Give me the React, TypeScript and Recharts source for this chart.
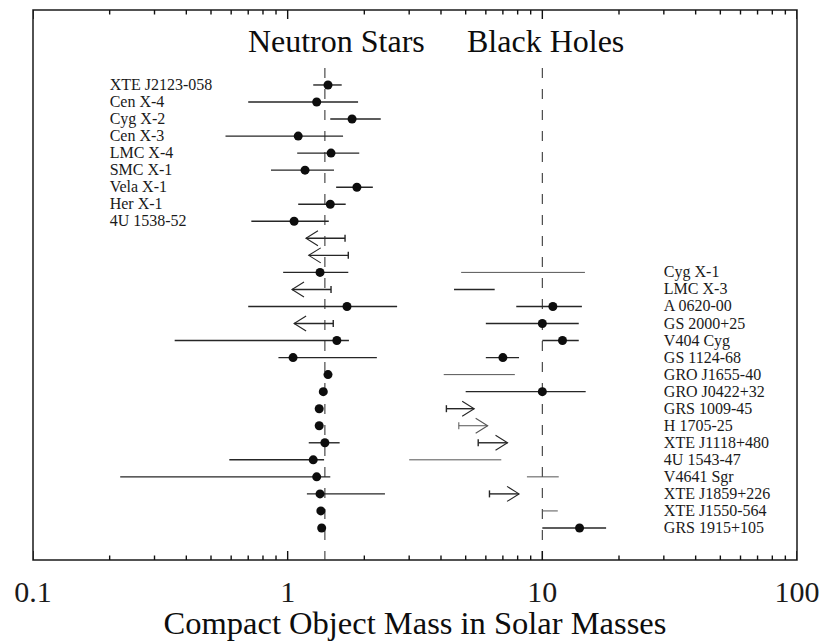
import React from 'react';
import { ScatterChart, Scatter, XAxis, YAxis, ReferenceLine, ReferenceArea } from 'recharts';

const FONT = '"Liberation Serif", "Times New Roman", Times, serif';
const INK = '#1a1a1a';

// ---- Neutron stars (rows 0..26, top to bottom). null mass = upper limit (arrow to the left)
const nsNames = ['XTE J2123-058', 'Cen X-4', 'Cyg X-2', 'Cen X-3', 'LMC X-4', 'SMC X-1', 'Vela X-1', 'Her X-1', '4U 1538-52'];
const nsMass: (number | null)[] = [1.44, 1.30, 1.79, 1.10, 1.48, 1.17, 1.87, 1.47, 1.06, null, null, 1.34, null, 1.71, null, 1.56, 1.05, 1.44, 1.38, 1.33, 1.33, 1.40, 1.26, 1.30, 1.34, 1.35, 1.36];
const nsLow = [1.26, 0.70, 1.47, 0.57, 1.09, 0.86, 1.55, 1.10, 0.72, 1.18, 1.21, 0.96, 1.04, 0.70, 1.06, 0.36, 0.92, 1.41, 1.36, 1.31, 1.31, 1.21, 0.59, 0.22, 1.19, 1.33, 1.34];
const nsHigh = [1.63, 1.89, 2.32, 1.65, 1.91, 1.52, 2.16, 1.69, 1.45, 1.68, 1.73, 1.73, 1.48, 2.69, 1.51, 1.74, 2.24, 1.48, 1.40, 1.35, 1.35, 1.60, 1.39, 1.47, 2.41, 1.37, 1.38];

// ---- Black holes (rows 11..26). null mass = range only; bhLimit = lower limit (arrow to the right)
const bhNames = ['Cyg X-1', 'LMC X-3', 'A 0620-00', 'GS 2000+25', 'V404 Cyg', 'GS 1124-68', 'GRO J1655-40', 'GRO J0422+32', 'GRS 1009-45', 'H 1705-25', 'XTE J1118+480', '4U 1543-47', 'V4641 Sgr', 'XTE J1859+226', 'XTE J1550-564', 'GRS 1915+105'];
const bhMass: (number | null)[] = [null, null, 11.0, 10.0, 12.0, 7.0, null, 10.0, null, null, null, null, null, null, null, 14.0];
const bhLow = [4.8, 4.5, 7.9, 6.0, 10.0, 6.0, 4.1, 5.0, 4.2, 4.7, 5.6, 3.0, 8.7, 6.2, 10.0, 10.0];
const bhHigh = [14.7, 6.5, 14.3, 13.9, 13.9, 8.1, 7.8, 14.8, 5.4, 6.1, 7.3, 6.9, 11.6, 8.1, 11.5, 17.8];
const bhLimit = [false, false, false, false, false, false, false, false, true, true, true, false, false, true, false, false];
const bhThin = ['Cyg X-1', 'H 1705-25', 'V4641 Sgr', 'XTE J1550-564', '4U 1543-47', 'GRO J1655-40'];

const BH_FIRST_ROW = 11;
const NS_REF_MASS = 1.4;
const BH_REF_MASS = 10;

const titles = ['Neutron Stars', 'Black Holes'];
const titleMass = [0.698, 5.06];
const TITLE_ROW = -1.94;
const NS_LABEL_MASS = 0.2;
const BH_LABEL_MASS = 30;

const majorTicks = [0.1, 1, 10, 100];
const majorLabels = ['0.1', '1', '10', '100'];
const minorSteps = [2, 3, 4, 5, 6, 7, 8, 9];
const allTicks: number[] = [];
majorTicks.forEach((m, i) => {
  allTicks.push(m);
  if (i < majorTicks.length - 1) minorSteps.forEach((s) => allTicks.push(+(m * s).toPrecision(3)));
});

const Y_DOMAIN: [number, number] = [-4.4, 27.88];
const X_DOMAIN: [number, number] = [0.1, 100];

const majorIndex = (v: number) => majorTicks.findIndex((m) => Math.abs(m - v) < 1e-9);

const BottomTickLabel = (p: any) => {
  const { x, y, payload } = p;
  const mi = majorIndex(payload.value);
  if (mi < 0) return <g />;
  return (
    <text x={x} y={y + 42} textAnchor="middle" fontSize={30} fontFamily={FONT} fill={INK}>
      {majorLabels[mi]}
    </text>
  );
};

const ErrShape = (p: any) => {
  const { x1, y1, x2, y2, arrow, thin } = p;
  const stroke = thin ? '#555' : '#262626';
  const sw = thin ? 1 : 1.4;
  if (!arrow) {
    return <line x1={x1} y1={y1} x2={x2} y2={y2} stroke={stroke} strokeWidth={sw} />;
  }
  const dir = Math.sign(x2 - x1) || 1;
  const hl = 12;
  const hw = 7.5;
  return (
    <g>
      <line x1={x1} y1={y1} x2={x2} y2={y2} stroke={stroke} strokeWidth={sw} />
      <line x1={x1} y1={y1 - 3.5} x2={x1} y2={y1 + 3.5} stroke={stroke} strokeWidth={sw} />
      <polyline
        points={`${x2 - dir * hl},${y2 - hw} ${x2},${y2} ${x2 - dir * hl},${y2 + hw}`}
        fill="none"
        stroke={stroke}
        strokeWidth={1.1}
      />
    </g>
  );
};

// frame ticks, drawn as scatter marks sitting on the top and bottom frame edges
const tickMarks = [
  ...allTicks.map((t) => ({ x: t, y: Y_DOMAIN[1], dir: -1 })),
  ...allTicks.map((t) => ({ x: t, y: Y_DOMAIN[0], dir: 1 })),
];

const TickMark = (p: any) => {
  const { cx, cy, payload } = p;
  const len = majorIndex(payload.x) >= 0 ? 9 : 4.5;
  return <line x1={cx} x2={cx} y1={cy} y2={cy + payload.dir * len} stroke="#111" strokeWidth={1.4} />;
};

type Seg = { row: number; from: number; to: number; arrow: boolean; thin: boolean };
const segments: Seg[] = [
  ...nsLow.map((lo, i) => {
    const lim = nsMass[i] === null;
    return { row: i, from: lim ? nsHigh[i] : lo, to: lim ? lo : nsHigh[i], arrow: lim, thin: false };
  }),
  ...bhLow.map((lo, i) => ({
    row: BH_FIRST_ROW + i,
    from: lo,
    to: bhHigh[i],
    arrow: bhLimit[i],
    thin: bhThin.includes(bhNames[i]),
  })),
];

const dots = [
  ...nsMass.map((m, i) => (m === null ? null : { x: m, y: i })),
  ...bhMass.map((m, i) => (m === null ? null : { x: m, y: BH_FIRST_ROW + i })),
].filter(Boolean) as { x: number; y: number }[];

const labelData = [
  ...nsNames.map((n, i) => ({ x: NS_LABEL_MASS, y: i, name: n })),
  ...bhNames.map((n, i) => ({ x: BH_LABEL_MASS, y: BH_FIRST_ROW + i, name: n })),
];

const titleData = titles.map((t, i) => ({ x: titleMass[i], y: TITLE_ROW, name: t }));

const Dot = (p: any) => <circle cx={p.cx} cy={p.cy} r={4.5} fill="#0d0d0d" />;

const NameLabel = (p: any) => (
  <text x={p.cx} y={p.cy + 5} textAnchor="start" fontSize={16} fontFamily={FONT} fill={INK}>
    {p.payload.name}
  </text>
);

const TitleLabel = (p: any) => (
  <text x={p.cx} y={p.cy} textAnchor="start" fontSize={32} fontFamily={FONT} fill="#0d0d0d">
    {p.payload.name}
  </text>
);

export default function App() {
  return (
    <div style={{ position: 'fixed', left: 0, top: 0, width: 824, height: 641, background: '#fff' }}>
      <ScatterChart width={824} height={641} margin={{ top: 8, right: 27, bottom: 0, left: 33 }}>
        <XAxis
          dataKey="x"
          type="number"
          scale="log"
          domain={X_DOMAIN}
          allowDataOverflow
          ticks={allTicks}
          interval={0}
          tick={(p: any) => <BottomTickLabel {...p} />}
          tickLine={false}
          axisLine={false}
          tickSize={0}
          tickMargin={0}
          height={81}
          label={{
            value: 'Compact Object Mass in Solar Masses',
            position: 'insideBottom',
            offset: 7,
            fontSize: 32.5,
            fontFamily: FONT,
            fill: '#0d0d0d',
          }}
        />
        <XAxis
          xAxisId="top"
          orientation="top"
          dataKey="x"
          type="number"
          scale="log"
          domain={X_DOMAIN}
          allowDataOverflow
          tick={false}
          tickLine={false}
          axisLine={false}
          height={2}
        />
        <YAxis dataKey="y" type="number" domain={Y_DOMAIN} allowDataOverflow reversed hide />
        <ReferenceArea
          x1={X_DOMAIN[0]}
          x2={X_DOMAIN[1]}
          y1={Y_DOMAIN[0]}
          y2={Y_DOMAIN[1]}
          fill="none"
          fillOpacity={0}
          stroke={INK}
          strokeWidth={1.5}
          ifOverflow="visible"
        />
        {[NS_REF_MASS, BH_REF_MASS].map((m) => (
          <ReferenceLine
            key={'ref' + m}
            segment={[
              { x: m, y: -1 },
              { x: m, y: Y_DOMAIN[1] },
            ]}
            stroke="#3a3a3a"
            strokeWidth={1.1}
            strokeDasharray="10 11"
            ifOverflow="visible"
          />
        ))}
        {segments.map((s, i) => (
          <ReferenceLine
            key={'seg' + i}
            segment={[
              { x: s.from, y: s.row },
              { x: s.to, y: s.row },
            ]}
            ifOverflow="visible"
            shape={(p: any) => <ErrShape {...p} arrow={s.arrow} thin={s.thin} />}
          />
        ))}
        <Scatter data={tickMarks} shape={(p: any) => <TickMark {...p} />} isAnimationActive={false} />
        <Scatter data={dots} shape={(p: any) => <Dot {...p} />} isAnimationActive={false} />
        <Scatter data={labelData} shape={(p: any) => <NameLabel {...p} />} isAnimationActive={false} />
        <Scatter data={titleData} shape={(p: any) => <TitleLabel {...p} />} isAnimationActive={false} />
      </ScatterChart>
    </div>
  );
}
